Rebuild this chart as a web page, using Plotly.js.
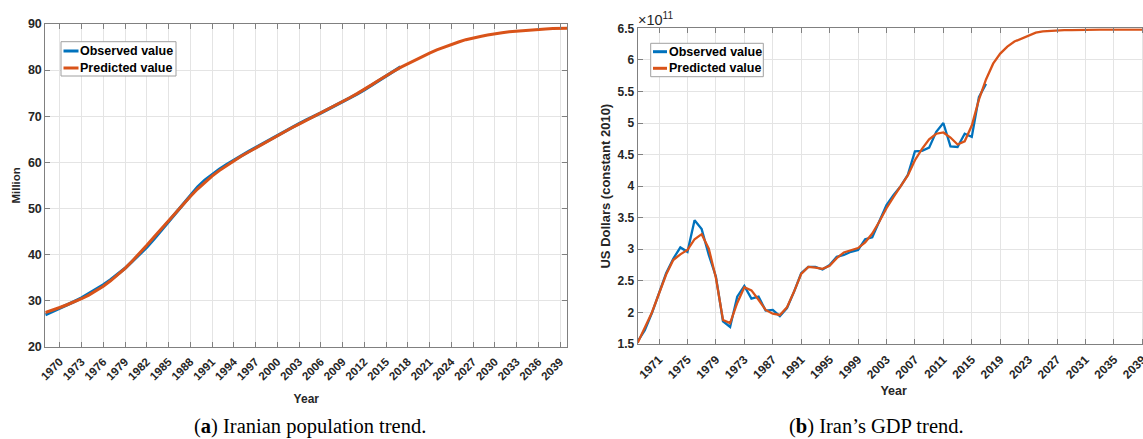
<!DOCTYPE html>
<html><head><meta charset="utf-8">
<script src="https://cdn.plot.ly/plotly-3.0.1.min.js"></script>
<style>html,body{margin:0;padding:0;overflow:hidden;background:#fff}#chart{width:1160px;height:439px}</style>
</head><body><div id="chart"></div>
<script>
// ---------- Data ----------
const seriesNames = ['Observed value', 'Predicted value'];

const popYearsObserved = [1968,1969,1970,1971,1972,1973,1974,1975,1976,1977,1978,1979,1980,1981,1982,1983,1984,1985,1986,1987,1988,1989,1990,1991,1992,1993,1994,1995,1996,1997,1998,1999,2000,2001,2002,2003,2004,2005,2006,2007,2008,2009,2010,2011,2012,2013,2014,2015,2016,2017];
const popObserved = [26.9,27.6,28.3,29.0,29.8,30.6,31.5,32.4,33.4,34.5,35.7,37.0,38.5,40.0,41.6,43.4,45.3,47.2,49.1,51.0,52.9,54.6,56.1,57.4,58.5,59.5,60.5,61.4,62.3,63.2,64.0,64.9,65.8,66.7,67.5,68.4,69.2,69.9,70.7,71.5,72.3,73.1,73.9,74.8,75.7,76.7,77.7,78.8,79.8,80.7];

const predYears = [1968,1969,1970,1971,1972,1973,1974,1975,1976,1977,1978,1979,1980,1981,1982,1983,1984,1985,1986,1987,1988,1989,1990,1991,1992,1993,1994,1995,1996,1997,1998,1999,2000,2001,2002,2003,2004,2005,2006,2007,2008,2009,2010,2011,2012,2013,2014,2015,2016,2017,2018,2019,2020,2021,2022,2023,2024,2025,2026,2027,2028,2029,2030,2031,2032,2033,2034,2035,2036,2037,2038,2039,2040];
const popPredicted = [27.4,27.9,28.5,29.1,29.7,30.4,31.2,32.1,33.1,34.3,35.6,37.0,38.6,40.2,42.0,43.8,45.6,47.4,49.2,50.9,52.6,54.2,55.7,57.0,58.2,59.3,60.3,61.3,62.2,63.1,64.0,64.9,65.8,66.6,67.5,68.3,69.1,69.9,70.7,71.5,72.3,73.2,74.0,74.9,75.8,76.8,77.8,78.8,79.7,80.6,81.4,82.2,83.0,83.7,84.4,85.0,85.6,86.1,86.6,87.0,87.3,87.6,87.9,88.1,88.3,88.45,88.6,88.7,88.8,88.9,89.0,89.05,89.1];
const popTickYears = [1970,1973,1976,1979,1982,1985,1988,1991,1994,1997,2000,2003,2006,2009,2012,2015,2018,2021,2024,2027,2030,2033,2036,2039];

const gdpYearsObserved = popYearsObserved;
// US dollars (constant 2010), in units of 1e11
const gdpObserved = [1.54,1.72,1.99,2.30,2.62,2.85,3.03,2.96,3.46,3.32,2.91,2.57,1.86,1.77,2.25,2.42,2.22,2.25,2.03,2.04,1.94,2.07,2.33,2.62,2.72,2.72,2.68,2.75,2.88,2.91,2.96,2.99,3.16,3.19,3.44,3.70,3.86,4.00,4.18,4.55,4.56,4.61,4.86,5.00,4.63,4.62,4.83,4.78,5.41,5.62];
const gdpPredicted = [1.52,1.75,2.00,2.30,2.60,2.83,2.92,2.99,3.16,3.24,3.01,2.55,1.88,1.83,2.15,2.40,2.35,2.20,2.04,1.98,1.96,2.08,2.33,2.61,2.72,2.71,2.69,2.74,2.86,2.95,2.98,3.02,3.11,3.25,3.44,3.65,3.83,3.99,4.17,4.41,4.59,4.74,4.83,4.85,4.77,4.66,4.71,4.96,5.37,5.69,5.94,6.10,6.21,6.29,6.34,6.39,6.43,6.45,6.46,6.47,6.47,6.47,6.475,6.475,6.475,6.48,6.48,6.48,6.48,6.48,6.48,6.48,6.48];
const gdpTickYears = [1971,1975,1979,1983,1987,1991,1995,1999,2003,2007,2011,2015,2019,2023,2027,2031,2035,2039];
const gdpTickLabels = ['1971','1975','1979','1973','1987','1991','1995','1999','2003','2007','2011','2015','2019','2023','2027','2031','2035','2039'];
const gdpYTicks = [1.5,2,2.5,3,3.5,4,4.5,5,5.5,6,6.5];
const gdpYTickLabels = ['1.5','2','2.5','3','3.5','4','4.5','5','5.5','6','6.5'];

// ---------- Styling ----------
const W = 1160, H = 439;
const px = x => x / W, py = y => 1 - y / H;
const BLUE = '#0072BD', ORANGE = '#D95319';
const AXC = '#808080', GRID = '#e4e4e4', TXT = '#262626';
const SANS = 'Liberation Sans, Arial, sans-serif';

const traces = [
  {x: popYearsObserved, y: popObserved, name: seriesNames[0], type: 'scatter', mode: 'lines', line: {color: BLUE, width: 3.2}, xaxis: 'x', yaxis: 'y', showlegend: false},
  {x: predYears, y: popPredicted, name: seriesNames[1], type: 'scatter', mode: 'lines', line: {color: ORANGE, width: 3}, xaxis: 'x', yaxis: 'y', showlegend: false},
  {x: gdpYearsObserved, y: gdpObserved, name: seriesNames[0], type: 'scatter', mode: 'lines', line: {color: BLUE, width: 2.3}, xaxis: 'x2', yaxis: 'y2', showlegend: false},
  {x: predYears, y: gdpPredicted, name: seriesNames[1], type: 'scatter', mode: 'lines', line: {color: ORANGE, width: 2.3}, xaxis: 'x2', yaxis: 'y2', showlegend: false}
];

function axisBase() {
  return {showline: true, linecolor: AXC, linewidth: 1, mirror: 'ticks', ticks: 'inside', ticklen: 5, tickcolor: AXC,
          showgrid: true, gridcolor: GRID, gridwidth: 1, zeroline: false, automargin: false, fixedrange: true};
}

const xa1 = Object.assign(axisBase(), {domain: [px(45.3), px(567.3)], range: [1968, 2040], tickmode: 'array', tickvals: popTickYears,
  ticktext: popTickYears.map(String), tickangle: -45, ticklabelstandoff: 3, tickfont: {family: SANS, size: 11.5, color: TXT, weight: 'bold'},
  title: {text: 'Year', font: {family: SANS, size: 12, color: TXT, weight: 'bold'}, standoff: 13}, anchor: 'y'});
const ya1 = Object.assign(axisBase(), {domain: [py(346.7), py(24)], range: [20, 90], dtick: 10, tick0: 20,
  tickfont: {family: SANS, size: 12.5, color: TXT, weight: 'bold'},
  title: {text: 'Million', font: {family: SANS, size: 11.5, color: TXT, weight: 'bold'}, standoff: 4}, anchor: 'x'});
const xa2 = Object.assign(axisBase(), {domain: [px(637.7), px(1149.5)], range: [1968, 2040], tickmode: 'array', tickvals: gdpTickYears,
  ticktext: gdpTickLabels, tickangle: -45, ticklabelstandoff: 3, tickfont: {family: SANS, size: 12, color: TXT, weight: 'bold'},
  title: {text: 'Year', font: {family: SANS, size: 12.5, color: TXT, weight: 'bold'}, standoff: 5}, anchor: 'y2'});
const ya2 = Object.assign(axisBase(), {domain: [py(344), py(28.3)], range: [1.5, 6.5], tickmode: 'array', tickvals: gdpYTicks,
  ticktext: gdpYTickLabels, tickfont: {family: SANS, size: 12, color: TXT, weight: 'bold'},
  title: {text: 'US Dollars (constant 2010)', font: {family: SANS, size: 13, color: TXT, weight: 'bold'}, standoff: 4}, anchor: 'x2'});

// manual MATLAB-style legends
function legend(x0, x1, y0, y1, lx0, lx1, rowY, tx) {
  const shapes = [{type: 'rect', xref: 'paper', yref: 'paper', x0: px(x0), x1: px(x1), y0: py(y1), y1: py(y0),
                   line: {color: '#a0a0a0', width: 1}, fillcolor: '#ffffff', layer: 'above'}];
  const anns = [];
  [BLUE, ORANGE].forEach((c, i) => {
    shapes.push({type: 'line', xref: 'paper', yref: 'paper', x0: px(lx0), x1: px(lx1), y0: py(rowY[i]), y1: py(rowY[i]),
                 line: {color: c, width: 3}, layer: 'above'});
    anns.push({xref: 'paper', yref: 'paper', x: px(tx), y: py(rowY[i]), xanchor: 'left', yanchor: 'middle', showarrow: false,
               text: seriesNames[i], font: {family: SANS, size: 12.5, color: '#000', weight: 'bold'}});
  });
  return {shapes, anns};
}
const L1 = legend(61, 176, 41.7, 76, 63.5, 78.5, [51, 68], 78);
const L2 = legend(650.7, 763.3, 43.3, 76.7, 653, 667, [51.7, 68.3], 667);

const annotations = [
  ...L1.anns, ...L2.anns,
  {xref: 'paper', yref: 'paper', x: px(636), y: py(19), xanchor: 'left', yanchor: 'middle', showarrow: false,
   text: '×10<sup>11</sup>', font: {family: SANS, size: 14.5, color: TXT}},
  {xref: 'paper', yref: 'paper', x: px(310), y: py(426), xanchor: 'center', yanchor: 'middle', showarrow: false,
   text: '(<b>a</b>) Iranian population trend.', font: {family: 'Liberation Serif, serif', size: 20.5, color: '#000'}},
  {xref: 'paper', yref: 'paper', x: px(876), y: py(426), xanchor: 'center', yanchor: 'middle', showarrow: false,
   text: '(<b>b</b>) Iran’s GDP trend.', font: {family: 'Liberation Serif, serif', size: 20.5, color: '#000'}}
];

const layout = {
  width: W, height: H, margin: {l: 0, r: 0, t: 0, b: 0}, paper_bgcolor: '#fff', plot_bgcolor: '#fff',
  showlegend: false, hovermode: false,
  xaxis: xa1, yaxis: ya1, xaxis2: xa2, yaxis2: ya2,
  shapes: [...L1.shapes, ...L2.shapes], annotations: annotations
};

Plotly.newPlot('chart', traces, layout, {staticPlot: true, displayModeBar: false});
</script></body></html>
